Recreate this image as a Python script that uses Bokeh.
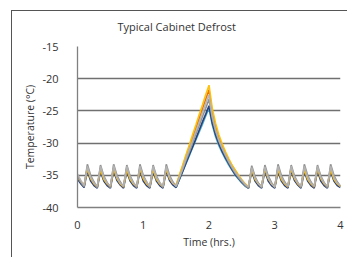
from bokeh.plotting import figure
from bokeh.models import FixedTicker, Title, PrintfTickFormatter
from bokeh.embed import file_html
from bokeh.resources import INLINE

time_hrs = [0.00, 0.05, 0.10, 0.15, 0.20, 0.25, 0.30, 0.35, 0.40, 0.45,
            0.50, 0.55, 0.60, 0.65, 0.70, 0.75, 0.80, 0.85, 0.90, 0.95,
            1.00, 1.05, 1.10, 1.15, 1.20, 1.25, 1.30, 1.35, 1.40, 1.45,
            1.50, 1.55, 1.60, 1.65, 1.70, 1.75, 1.80, 1.85, 1.90, 1.95,
            2.00, 2.05, 2.10, 2.15, 2.20, 2.25, 2.30, 2.35, 2.40, 2.45,
            2.50, 2.55, 2.60, 2.65, 2.70, 2.75, 2.80, 2.85, 2.90, 2.95,
            3.00, 3.05, 3.10, 3.15, 3.20, 3.25, 3.30, 3.35, 3.40, 3.45,
            3.50, 3.55, 3.60, 3.65, 3.70, 3.75, 3.80, 3.85, 3.90, 3.95,
            4.00]

probe_gray = [-34.8, -35.8, -36.6, -33.6, -35.3, -36.2, -36.7, -33.6, -35.3, -36.2,
              -36.7, -33.5, -35.3, -36.2, -36.7, -33.6, -35.3, -36.2, -36.7, -33.6,
              -35.2, -36.1, -36.7, -33.6, -35.3, -36.2, -36.7, -33.6, -35.3, -36.2,
              -36.7, -35.3, -33.9, -32.4, -31.0, -29.6, -28.2, -26.8, -25.3, -23.9,
              -22.5, -25.8, -27.9, -29.5, -30.7, -31.8, -32.8, -33.7, -34.5, -35.2,
              -35.8, -36.4, -36.8, -33.8, -35.4, -36.3, -36.8, -33.7, -35.4, -36.3,
              -36.8, -33.6, -35.3, -36.2, -36.7, -33.6, -35.3, -36.2, -36.7, -33.6,
              -35.3, -36.2, -36.7, -33.6, -35.3, -36.2, -36.7, -33.6, -35.3, -36.2,
              -36.6]

probe_darkgray = [-35.2, -36.1, -36.8, -33.3, -35.0, -36.0, -36.9, -33.4, -35.1, -36.1,
                  -36.9, -33.3, -35.0, -36.0, -36.8, -33.4, -35.1, -36.1, -36.9, -33.3,
                  -35.0, -36.0, -36.9, -33.4, -35.1, -36.1, -36.9, -33.3, -35.0, -36.0,
                  -36.8, -35.4, -34.1, -32.7, -31.4, -30.0, -28.6, -27.3, -25.9, -24.6,
                  -23.2, -26.2, -28.2, -29.7, -30.9, -32.0, -33.0, -33.9, -34.7, -35.4,
                  -36.0, -36.6, -37.0, -33.5, -35.2, -36.2, -36.9, -33.4, -35.1, -36.1,
                  -36.9, -33.3, -35.0, -36.0, -36.8, -33.4, -35.1, -36.1, -36.9, -33.3,
                  -35.0, -36.0, -36.8, -33.4, -35.1, -36.1, -36.9, -33.3, -35.0, -36.0,
                  -36.7]

probe_navy = [-35.6, -36.3, -36.9, -34.3, -35.9, -36.6, -37.0, -34.4, -35.9, -36.6,
              -37.0, -34.3, -35.8, -36.5, -37.0, -34.4, -35.9, -36.6, -37.0, -34.3,
              -35.9, -36.6, -37.0, -34.4, -35.9, -36.6, -37.0, -34.3, -35.8, -36.5,
              -36.9, -35.6, -34.4, -33.1, -31.8, -30.6, -29.3, -28.0, -26.7, -25.5,
              -24.2, -26.9, -28.7, -30.1, -31.3, -32.3, -33.2, -34.1, -34.9, -35.5,
              -36.1, -36.6, -37.0, -34.4, -35.9, -36.6, -37.0, -34.3, -35.9, -36.6,
              -37.0, -34.4, -35.9, -36.6, -37.0, -34.3, -35.8, -36.5, -37.0, -34.4,
              -35.9, -36.6, -37.0, -34.3, -35.9, -36.6, -37.0, -34.4, -35.9, -36.6,
              -36.9]

probe_yellow = [-35.3, -36.0, -36.6, -34.0, -35.5, -36.3, -36.8, -34.1, -35.6, -36.3,
                -36.8, -34.0, -35.5, -36.3, -36.8, -34.1, -35.6, -36.3, -36.8, -34.0,
                -35.5, -36.3, -36.8, -34.1, -35.6, -36.3, -36.8, -34.0, -35.5, -36.2,
                -36.5, -34.9, -33.4, -31.8, -30.3, -28.7, -27.2, -25.6, -24.1, -22.5,
                -21.0, -24.6, -26.9, -28.7, -30.1, -31.3, -32.4, -33.4, -34.2, -35.0,
                -35.7, -36.3, -36.8, -34.1, -35.6, -36.3, -36.8, -34.0, -35.5, -36.3,
                -36.8, -34.1, -35.6, -36.3, -36.8, -34.0, -35.5, -36.3, -36.8, -34.1,
                -35.6, -36.3, -36.8, -34.0, -35.5, -36.3, -36.8, -34.1, -35.6, -36.3,
                -36.7]

probe_orange = [-35.0, -35.9, -36.7, -33.8, -35.4, -36.3, -36.8, -33.9, -35.4, -36.3,
                -36.8, -33.8, -35.4, -36.3, -36.8, -33.9, -35.4, -36.3, -36.8, -33.8,
                -35.4, -36.3, -36.8, -33.9, -35.4, -36.3, -36.8, -33.8, -35.4, -36.3,
                -36.6, -35.1, -33.6, -32.1, -30.6, -29.2, -27.7, -26.2, -24.7, -23.2,
                -21.7, -25.2, -27.4, -29.1, -30.4, -31.6, -32.6, -33.5, -34.3, -35.1,
                -35.8, -36.4, -36.9, -33.9, -35.4, -36.3, -36.8, -33.8, -35.4, -36.3,
                -36.8, -33.9, -35.4, -36.3, -36.8, -33.8, -35.4, -36.3, -36.8, -33.9,
                -35.4, -36.3, -36.8, -33.8, -35.4, -36.3, -36.8, -33.9, -35.4, -36.3,
                -36.7]

probe_lightblue = [-35.4, -36.2, -36.8, -33.9, -35.5, -36.4, -36.9, -33.9, -35.5, -36.4,
                   -36.9, -33.9, -35.5, -36.4, -36.9, -33.9, -35.5, -36.4, -36.9, -33.9,
                   -35.5, -36.4, -36.9, -33.9, -35.5, -36.4, -36.9, -33.9, -35.5, -36.4,
                   -36.9, -35.7, -34.4, -33.2, -32.0, -30.7, -29.5, -28.3, -27.1, -25.8,
                   -24.6, -27.2, -29.0, -30.4, -31.5, -32.5, -33.4, -34.2, -35.0, -35.6,
                   -36.2, -36.7, -37.0, -33.9, -35.5, -36.4, -36.9, -33.9, -35.5, -36.4,
                   -36.9, -33.9, -35.5, -36.4, -36.9, -33.9, -35.5, -36.4, -36.9, -33.9,
                   -35.5, -36.4, -36.9, -33.9, -35.5, -36.4, -36.9, -33.9, -35.5, -36.4,
                   -36.8]

y_ticks = [-40, -35, -30, -25, -20, -15]
x_ticks = [0, 1, 2, 3, 4]

series = [
    (probe_lightblue, "#4bacc6"),
    (probe_navy, "#1f3a7a"),
    (probe_orange, "#e46c0a"),
    (probe_yellow, "#ffc000"),
    (probe_darkgray, "#8c8c8c"),
    (probe_gray, "#b4b4b4"),
]

FONT = "Open Sans"

p = figure(width=336, height=247, x_range=(0, 4), y_range=(-40, -15),
           output_backend="svg", toolbar_location=None,
           min_border_left=65, min_border_right=8, min_border_top=35,
           min_border_bottom=51)
p.margin = (10, 0, 0, 11)
p.styles = {"border-left": "1px solid #555555", "border-top": "1px solid #555555"}

p.outline_line_color = None
p.background_fill_color = "white"
p.border_fill_color = "white"

for vals, col in series:
    p.line(time_hrs, vals, line_color=col, line_width=1.6, line_alpha=0.95)

spacer = Title(text=" ", text_font_size="6px", standoff=0)
p.add_layout(spacer, "above")
t = Title(text="Typical Cabinet Defrost", align="left", offset=40,
          text_font=FONT, text_font_size="11px", text_font_style="normal",
          text_color="#333333")
p.add_layout(t, "above")

p.xgrid.visible = False
p.ygrid.ticker = FixedTicker(ticks=y_ticks)
p.ygrid.grid_line_color = "#707070"
p.ygrid.grid_line_width = 1.3

p.yaxis.ticker = FixedTicker(ticks=y_ticks)
p.xaxis.ticker = FixedTicker(ticks=x_ticks)
p.yaxis.formatter = PrintfTickFormatter(format="%d")
p.xaxis.formatter = PrintfTickFormatter(format="%d")
for ax in (p.xaxis, p.yaxis):
    ax.major_tick_line_color = None
    ax.minor_tick_line_color = None
    ax.axis_line_color = "#808080"
    ax.axis_line_width = 1.3
    ax.major_label_text_font = FONT
    ax.major_label_text_font_size = "11px"
    ax.major_label_text_color = "#333333"
    ax.axis_label_text_font = FONT
    ax.axis_label_text_font_size = "10.5px"
    ax.axis_label_text_font_style = "normal"
    ax.axis_label_text_color = "#333333"

p.xaxis.axis_label = "Time (hrs.)"
p.yaxis.axis_label = "Temperature (°C)"
p.xaxis.major_label_standoff = 7
p.xaxis.axis_label_standoff = 3
p.yaxis.major_label_standoff = 13
p.yaxis.axis_label_standoff = 2

open("out.html", "w").write(file_html(p, INLINE))
